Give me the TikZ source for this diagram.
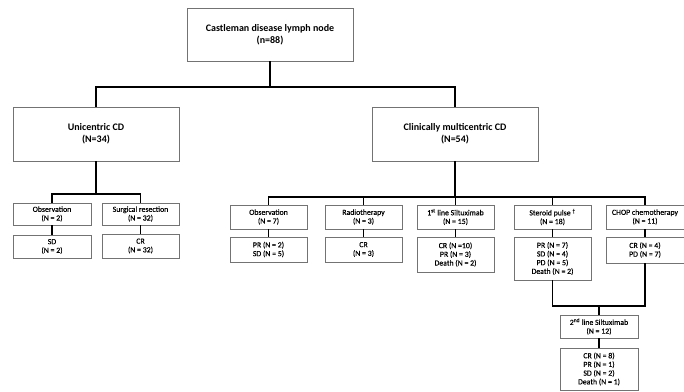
\documentclass[tikz,border=0pt]{standalone}
\usepackage{fontspec}
\setmainfont{Carlito}
\newfontfamily\smallfnt[FakeBold=0.35]{Carlito}
\begin{document}
\begin{tikzpicture}[x=1pt,y=-1pt,
  box/.style={draw=black!55, line width=0.9pt, fill=white, align=center, inner sep=1pt},
  bigbox/.style={box, font=\fontsize{10}{12}\selectfont\bfseries},
  smallbox/.style={box, font=\smallfnt\fontsize{7.8}{8.7}\selectfont},
  conn/.style={line width=1.8pt, black}]
\useasboundingbox (0,0) rectangle (684,391);
% level 0
\node[bigbox, minimum width=166pt, minimum height=53pt] (top) at (270,34.5) {Castleman disease lymph node\\(n=88)};
% level 1
\node[bigbox, minimum width=166pt, minimum height=54pt] (uni) at (96,134) {Unicentric CD\\(N=34)};
\node[bigbox, minimum width=166pt, minimum height=54pt] (clin) at (455,134) {Clinically multicentric CD\\(N=54)};
% left group
\node[smallbox, minimum width=78pt, minimum height=22pt] (lobs) at (52,214) {Observation\\(N = 2)};
\node[smallbox, minimum width=78pt, minimum height=23pt] (lsd) at (52,246.5) {SD\\(N = 2)};
\node[smallbox, minimum width=77pt, minimum height=22pt] (surg) at (140.5,214) {Surgical resection\\(N = 32)};
\node[smallbox, minimum width=77pt, minimum height=24pt] (lcr) at (140.5,246) {CR\\(N = 32)};
% right group
\node[smallbox, minimum width=77pt, minimum height=24pt] (robs) at (268.5,217) {Observation\\(N = 7)};
\node[smallbox, minimum width=77pt, minimum height=24pt] (radio) at (363.5,217) {Radiotherapy\\(N = 3)};
\node[smallbox, minimum width=77pt, minimum height=24pt] (first) at (455.5,217) {1\textsuperscript{st} line Siltuximab\\(N = 15)};
\node[smallbox, minimum width=77pt, minimum height=24pt] (ster) at (552.5,217) {Steroid pulse \textsuperscript{†}\\(N = 18)};
\node[smallbox, minimum width=78pt, minimum height=24pt] (chop) at (645,217) {CHOP chemotherapy\\(N = 11)};
\node[smallbox, minimum width=77pt, minimum height=25pt] (robsr) at (268.5,249.5) {PR (N = 2)\\SD (N = 5)};
\node[smallbox, minimum width=77pt, minimum height=25pt] (radior) at (363.5,249.5) {CR\\(N = 3)};
\node[smallbox, minimum width=77pt, minimum height=35pt] (firstr) at (455.5,254.5) {CR (N =10)\\PR (N = 3)\\Death (N = 2)};
\node[smallbox, minimum width=77pt, minimum height=43pt] (sterr) at (552.5,258.5) {PR (N = 7)\\SD (N = 4)\\PD (N = 5)\\Death (N = 2)};
\node[smallbox, minimum width=78pt, minimum height=26pt] (chopr) at (645,250) {CR (N = 4)\\PD (N = 7)};
\node[smallbox, minimum width=78pt, minimum height=23pt] (second) at (599,326.5) {2\textsuperscript{nd} line Siltuximab\\(N = 12)};
\node[smallbox, minimum width=78pt, minimum height=42pt] (final) at (599,369) {CR (N = 8)\\PR (N = 1)\\SD (N = 2)\\Death (N = 1)};
% bus coordinates
\coordinate (b1) at (270,87);
\coordinate (b2) at (96,194);
\coordinate (b3) at (455,197);
\coordinate (b4) at (599,306);
% connectors
\draw[conn] (top.south) -- (b1);
\draw[conn] (uni.north) |- (b1) -| (clin.north);
\draw[conn] (uni.south) -- (b2);
\draw[conn] (lobs.north) |- (b2) -| (surg.north);
\draw[conn] (lobs.south) -- (lsd.north);
\draw[conn] (surg.south) -- (lcr.north);
\draw[conn] (clin.south) -- (b3);
\draw[conn] (robs.north) |- (b3) -| (chop.north);
\draw[conn] (radio.north) -- (radio.north |- b3);
\draw[conn] (first.north) -- (first.north |- b3);
\draw[conn] (ster.north) -- (ster.north |- b3);
\draw[conn] (robs.south) -- (robsr.north);
\draw[conn] (radio.south) -- (radior.north);
\draw[conn] (first.south) -- (firstr.north);
\draw[conn] (ster.south) -- (sterr.north);
\draw[conn] (chop.south) -- (chopr.north);
\draw[conn] (sterr.south) |- (b4) -| (chopr.south);
\draw[conn] (b4) -- (second.north);
\draw[conn] (second.south) -- (final.north);
\end{tikzpicture}
\end{document}
